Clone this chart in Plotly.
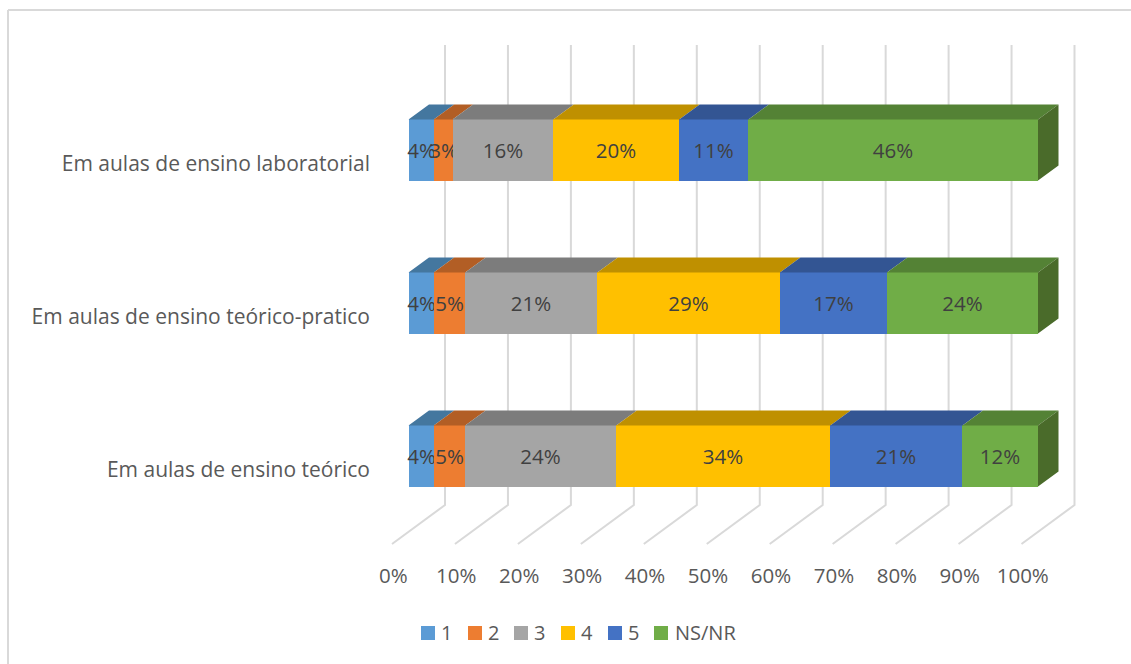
import plotly.graph_objects as go

categories = ["Em aulas de ensino teórico", "Em aulas de ensino teórico-pratico", "Em aulas de ensino laboratorial"]
series_names = ["1", "2", "3", "4", "5", "NS/NR"]
s1 = [4, 4, 4]
s2 = [5, 5, 3]
s3 = [24, 21, 16]
s4 = [34, 29, 20]
s5 = [21, 17, 11]
s6 = [12, 24, 46]
series_values = [s1, s2, s3, s4, s5, s6]
axis_ticks = [0, 10, 20, 30, 40, 50, 60, 70, 80, 90, 100]

front_colors = ["#5B9BD5", "#ED7D31", "#A5A5A5", "#FFC000", "#4472C4", "#70AD47"]
top_colors = ["#44779F", "#B25E25", "#7C7C7C", "#BF9000", "#335593", "#548235"]
side_color = "#4A6B2A"
GRID = "#D9D9D9"
FONT = "Open Sans"
FS = 20.5

W, H = 1131, 664
# plot frame in pixels and the linear pixel scale of the chart's front plane
L, R, T, B = 380, 1085, 40, 550
PX_PER_PCT = 6.295
X0_PX = 408.5
Y0_PX = 456.0
PX_PER_CAT = 153.0
x_of = lambda px: (px - X0_PX) / PX_PER_PCT
y_of = lambda py: (Y0_PX - py) / PX_PER_CAT
paper_x = lambda px: (px - L) / (R - L)
paper_y = lambda py: (B - py) / (B - T)

BAR_W = 0.40
DX = 20.5 / PX_PER_PCT      # depth of bars
DY = 15.0 / PX_PER_CAT
WALL_DX = 36.5 / PX_PER_PCT  # back wall
WALL_Y = y_of(505)
WALL_TOP = y_of(45)
FLOOR_DX = -16.5 / PX_PER_PCT
FLOOR_Y = y_of(544)

fig = go.Figure()
ypos = list(range(len(categories)))

for name, vals, col in zip(series_names, series_values, front_colors):
    fig.add_trace(go.Bar(
        y=ypos, x=vals, orientation="h", name=name, width=BAR_W, showlegend=False,
        marker=dict(color=col, line=dict(width=0)),
        text=[f"{v}%" for v in vals], textposition="inside", insidetextanchor="middle",
        textangle=0, constraintext="none", cliponaxis=False,
        textfont=dict(family=FONT, size=FS, color="#404040"),
        hovertemplate="%{x}%<extra>" + name + "</extra>",
    ))

# top faces of each stacked segment
base = [0] * len(categories)
for vals, col in zip(series_values, top_colors):
    xs, ys = [], []
    for i, v in enumerate(vals):
        a, b = base[i], base[i] + v
        y1 = ypos[i] + BAR_W / 2
        xs += [a, b, b + DX, a + DX, a, None]
        ys += [y1, y1, y1 + DY, y1 + DY, y1, None]
        base[i] = b
    fig.add_trace(go.Scatter(x=xs, y=ys, mode="lines", fill="toself", fillcolor=col,
                             line=dict(width=0), showlegend=False, hoverinfo="skip"))

# right-hand end face
xs, ys = [], []
for i in ypos:
    end = base[i]
    y0, y1 = ypos[i] - BAR_W / 2, ypos[i] + BAR_W / 2
    xs += [end, end + DX, end + DX, end, end, None]
    ys += [y0, y0 + DY, y1 + DY, y1, y0, None]
fig.add_trace(go.Scatter(x=xs, y=ys, mode="lines", fill="toself", fillcolor=side_color,
                         line=dict(width=0), showlegend=False, hoverinfo="skip"))

# walls: vertical back grid line + diagonal floor line per tick
shapes = []
for t in axis_ticks:
    shapes.append(dict(type="path", layer="below", xref="x", yref="y",
                       path=f"M {t + WALL_DX} {WALL_TOP} L {t + WALL_DX} {WALL_Y} L {t + FLOOR_DX} {FLOOR_Y}",
                       line=dict(color=GRID, width=2)))
# outer chart frame (top and left edges)
shapes.append(dict(type="line", xref="paper", yref="paper", layer="below",
                   x0=paper_x(8), x1=paper_x(W), y0=paper_y(10), y1=paper_y(10),
                   line=dict(color=GRID, width=2)))
shapes.append(dict(type="line", xref="paper", yref="paper", layer="below",
                   x0=paper_x(8), x1=paper_x(8), y0=paper_y(10), y1=paper_y(H),
                   line=dict(color=GRID, width=2)))

# legend row, laid out like the reference's tight swatch + label entries
annotations = []
for name, col, sx, tx in zip(series_names, front_colors,
                             [421, 468, 514, 561, 608, 654],
                             [441, 488, 534, 581, 628, 675]):
    shapes.append(dict(type="rect", xref="paper", yref="paper", layer="below",
                       x0=paper_x(sx), x1=paper_x(sx + 14), y0=paper_y(640), y1=paper_y(626),
                       fillcolor=col, line=dict(width=0)))
    annotations.append(dict(text=name, xref="paper", yref="paper", x=paper_x(tx), y=paper_y(632),
                            xanchor="left", yanchor="middle", showarrow=False, borderpad=0,
                            xshift=-1, font=dict(family=FONT, size=20, color="#595959")))

fig.update_layout(
    width=W, height=H, barmode="stack", bargap=0, showlegend=False,
    paper_bgcolor="white", plot_bgcolor="white",
    margin=dict(l=L, r=W - R, t=T, b=H - B, pad=0, autoexpand=False),
    font=dict(family=FONT, color="#595959", size=FS),
    shapes=shapes, annotations=annotations,
    xaxis=dict(range=[x_of(L), x_of(R)], tickvals=[t + FLOOR_DX + 0.2 for t in axis_ticks],
               ticktext=[f"{t}%" for t in axis_ticks], showgrid=False, zeroline=False,
               showline=False, ticks="", ticklabelstandoff=11, tickfont=dict(size=FS, color="#595959")),
    yaxis=dict(range=[y_of(B), y_of(T)], tickvals=[p - 0.09 for p in ypos], ticktext=categories,
               showgrid=False, zeroline=False, showline=False, ticks="", ticklabelstandoff=9,
               tickfont=dict(size=21, color="#595959")),
)

fig.write_html("out.html", config={"displayModeBar": False},
               post_script="document.body.style.margin='0';")
